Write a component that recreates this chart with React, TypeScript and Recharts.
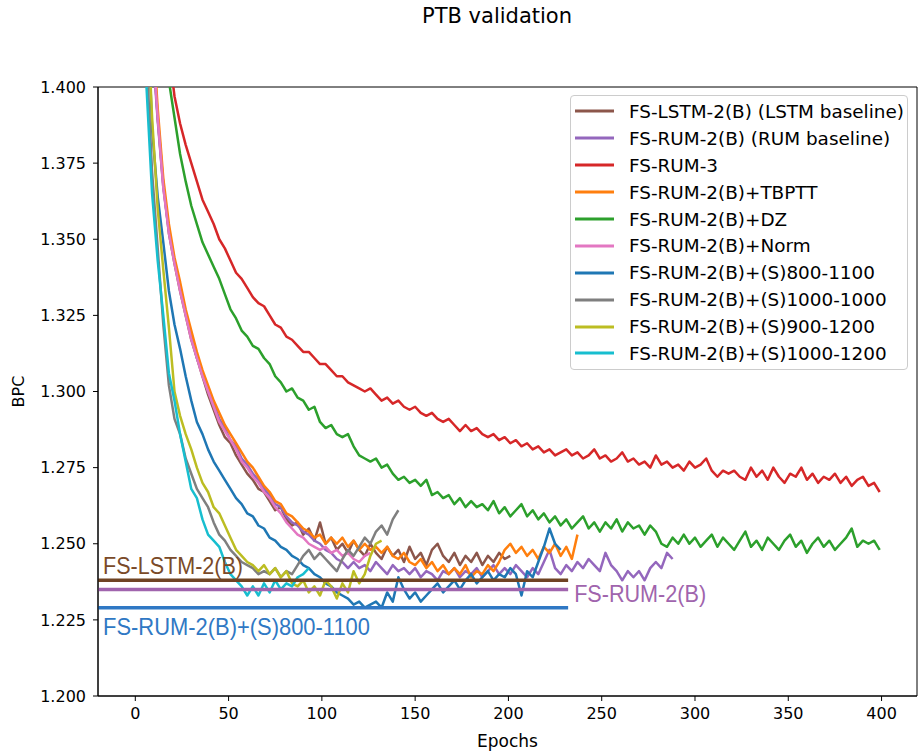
import React from 'react';
import { LineChart, Line, XAxis, YAxis, Legend, ReferenceArea, Label } from 'recharts';

// ---------- data ----------
const EPOCH_STEP = 3; // values below are read every 3 epochs, starting at epoch 0

const X_TICKS = [0, 50, 100, 150, 200, 250, 300, 350, 400];
const Y_TICKS = [1.2, 1.225, 1.25, 1.275, 1.3, 1.325, 1.35, 1.375, 1.4];
const X_DOMAIN = [-20, 419];
const Y_DOMAIN = [1.2, 1.4];

const LSTM_2B = [
  1.620, 1.545, 1.470, 1.418, 1.390, 1.368, 1.352, 1.342, 1.333, 1.325, 1.317, 1.311, 1.305, 1.299, 1.294, 1.289,
  1.285, 1.283, 1.279, 1.276, 1.273, 1.271, 1.268, 1.267, 1.264, 1.261, 1.262, 1.258, 1.256, 1.257, 1.253, 1.255,
  1.251, 1.257, 1.250, 1.252, 1.248, 1.250, 1.247, 1.251, 1.248, 1.246, 1.250, 1.247, 1.245, 1.249, 1.246, 1.248,
  1.244, 1.249, 1.245, 1.247, 1.243, 1.248, 1.250, 1.246, 1.244, 1.247, 1.243, 1.246, 1.244, 1.247, 1.243, 1.246,
  1.244, 1.247, 1.245, 1.246,
];

const RUM_2B = [
  1.615, 1.540, 1.465, 1.415, 1.389, 1.367, 1.353, 1.343, 1.334, 1.326, 1.318, 1.311, 1.306, 1.300, 1.296, 1.291,
  1.288, 1.284, 1.282, 1.278, 1.276, 1.273, 1.271, 1.268, 1.266, 1.263, 1.262, 1.259, 1.257, 1.256, 1.254, 1.253,
  1.251, 1.250, 1.248, 1.247, 1.245, 1.244, 1.242, 1.244, 1.242, 1.243, 1.241, 1.244, 1.242, 1.240, 1.243, 1.241,
  1.242, 1.240, 1.242, 1.239, 1.241, 1.240, 1.238, 1.241, 1.240, 1.242, 1.239, 1.241, 1.240, 1.242, 1.239, 1.241,
  1.243, 1.240, 1.242, 1.240, 1.243, 1.241, 1.239, 1.242, 1.240, 1.244, 1.248, 1.242, 1.240, 1.243, 1.241, 1.244,
  1.242, 1.245, 1.243, 1.241, 1.247, 1.243, 1.241, 1.238, 1.241, 1.239, 1.241, 1.238, 1.242, 1.244, 1.242, 1.247,
  1.245,
];

const RUM_3 = [
  1.600, 1.555, 1.515, 1.482, 1.455, 1.433, 1.412, 1.397, 1.388, 1.381, 1.375, 1.369, 1.363, 1.359, 1.355, 1.350,
  1.347, 1.343, 1.339, 1.337, 1.334, 1.331, 1.329, 1.328, 1.325, 1.322, 1.321, 1.318, 1.317, 1.315, 1.313, 1.313,
  1.311, 1.309, 1.309, 1.307, 1.305, 1.305, 1.303, 1.302, 1.301, 1.300, 1.301, 1.299, 1.297, 1.298, 1.296, 1.297,
  1.295, 1.294, 1.295, 1.293, 1.292, 1.293, 1.291, 1.290, 1.291, 1.289, 1.287, 1.289, 1.287, 1.288, 1.286, 1.285,
  1.286, 1.284, 1.285, 1.283, 1.284, 1.282, 1.283, 1.281, 1.282, 1.280, 1.281, 1.279, 1.280, 1.281, 1.279, 1.280,
  1.278, 1.279, 1.281, 1.278, 1.279, 1.277, 1.278, 1.280, 1.277, 1.278, 1.276, 1.277, 1.275, 1.279, 1.276, 1.277,
  1.275, 1.276, 1.274, 1.277, 1.275, 1.276, 1.278, 1.274, 1.272, 1.274, 1.273, 1.274, 1.272, 1.271, 1.275, 1.272,
  1.274, 1.271, 1.275, 1.272, 1.270, 1.273, 1.272, 1.275, 1.271, 1.273, 1.270, 1.272, 1.271, 1.273, 1.270, 1.272,
  1.269, 1.271, 1.272, 1.269, 1.270, 1.267,
];

const RUM_2B_TBPTT = [
  1.625, 1.550, 1.475, 1.422, 1.393, 1.370, 1.355, 1.344, 1.336, 1.327, 1.320, 1.313, 1.307, 1.302, 1.297, 1.293,
  1.289, 1.286, 1.283, 1.280, 1.277, 1.275, 1.272, 1.269, 1.267, 1.264, 1.263, 1.260, 1.259, 1.257, 1.255, 1.254,
  1.252, 1.253, 1.250, 1.252, 1.250, 1.252, 1.249, 1.251, 1.248, 1.250, 1.248, 1.249, 1.247, 1.249, 1.246, 1.245,
  1.247, 1.244, 1.243, 1.245, 1.242, 1.244, 1.241, 1.243, 1.240, 1.242, 1.240, 1.243, 1.239, 1.241, 1.240, 1.243,
  1.241, 1.244, 1.248, 1.250, 1.247, 1.249, 1.246, 1.248, 1.245, 1.249, 1.247, 1.250, 1.246, 1.249, 1.245, 1.253,
];

const RUM_2B_DZ = [
  1.580, 1.535, 1.495, 1.462, 1.438, 1.418, 1.402, 1.390, 1.378, 1.369, 1.361, 1.355, 1.349, 1.345, 1.341, 1.337,
  1.332, 1.327, 1.324, 1.320, 1.318, 1.315, 1.314, 1.311, 1.309, 1.305, 1.303, 1.300, 1.301, 1.298, 1.297, 1.294,
  1.295, 1.290, 1.288, 1.289, 1.286, 1.285, 1.286, 1.282, 1.279, 1.278, 1.277, 1.278, 1.275, 1.276, 1.273, 1.271,
  1.272, 1.270, 1.271, 1.269, 1.271, 1.266, 1.267, 1.265, 1.266, 1.263, 1.265, 1.262, 1.264, 1.262, 1.263, 1.261,
  1.264, 1.260, 1.262, 1.259, 1.261, 1.263, 1.259, 1.261, 1.258, 1.260, 1.257, 1.259, 1.256, 1.258, 1.255, 1.257,
  1.259, 1.255, 1.257, 1.254, 1.257, 1.255, 1.258, 1.254, 1.257, 1.255, 1.256, 1.253, 1.256, 1.254, 1.250, 1.249,
  1.252, 1.250, 1.253, 1.250, 1.252, 1.249, 1.251, 1.253, 1.249, 1.252, 1.250, 1.248, 1.251, 1.254, 1.249, 1.251,
  1.248, 1.252, 1.250, 1.248, 1.251, 1.253, 1.249, 1.251, 1.247, 1.250, 1.252, 1.249, 1.251, 1.248, 1.250, 1.252,
  1.255, 1.249, 1.251, 1.250, 1.251, 1.248,
];

const RUM_2B_NORM = [
  1.618, 1.543, 1.468, 1.417, 1.390, 1.367, 1.352, 1.342, 1.333, 1.325, 1.317, 1.311, 1.305, 1.300, 1.295, 1.290,
  1.287, 1.284, 1.281, 1.277, 1.275, 1.272, 1.270, 1.267, 1.265, 1.262, 1.260, 1.257, 1.255, 1.253, 1.252, 1.250,
  1.249, 1.248, 1.249, 1.247, 1.248, 1.246, 1.247, 1.245, 1.244, 1.246, 1.247,
];

const RUM_2B_S800_1100 = [
  1.580, 1.500, 1.435, 1.386, 1.364, 1.349, 1.333, 1.322, 1.314, 1.305, 1.297, 1.290, 1.286, 1.281, 1.277, 1.274,
  1.271, 1.268, 1.265, 1.263, 1.260, 1.259, 1.256, 1.255, 1.252, 1.251, 1.249, 1.248, 1.246, 1.245, 1.243, 1.242,
  1.240, 1.239, 1.237, 1.236, 1.234, 1.233, 1.232, 1.230, 1.231, 1.229, 1.230, 1.231, 1.229, 1.234, 1.231, 1.239,
  1.235, 1.232, 1.234, 1.231, 1.233, 1.235, 1.237, 1.234, 1.236, 1.238, 1.235, 1.238, 1.240, 1.237, 1.239, 1.241,
  1.238, 1.240, 1.239, 1.242, 1.240, 1.233, 1.241, 1.239, 1.244, 1.249, 1.255, 1.250, 1.248,
];

const RUM_2B_S1000_1000 = [
  1.600, 1.505, 1.410, 1.372, 1.347, 1.322, 1.302, 1.291, 1.286, 1.278, 1.273, 1.268, 1.265, 1.262, 1.257, 1.253,
  1.251, 1.248, 1.246, 1.244, 1.243, 1.242, 1.240, 1.241, 1.240, 1.242, 1.239, 1.241, 1.240, 1.243, 1.246, 1.248,
  1.245, 1.247, 1.245, 1.243, 1.241, 1.245, 1.248, 1.246, 1.249, 1.252, 1.250, 1.254, 1.256, 1.253, 1.258, 1.261,
];

const RUM_2B_S900_1200 = [
  1.600, 1.500, 1.430, 1.390, 1.360, 1.340, 1.321, 1.300, 1.292, 1.286, 1.281, 1.275, 1.270, 1.267, 1.262, 1.260,
  1.256, 1.252, 1.248, 1.246, 1.244, 1.243, 1.241, 1.243, 1.240, 1.242, 1.239, 1.241, 1.237, 1.236, 1.238, 1.234,
  1.236, 1.233, 1.238, 1.236, 1.232, 1.237, 1.234, 1.241, 1.237, 1.240, 1.246, 1.250, 1.251,
];

const RUM_2B_S1000_1200 = [
  1.580, 1.480, 1.400, 1.365, 1.343, 1.325, 1.306, 1.297, 1.286, 1.277, 1.268, 1.265, 1.258, 1.253, 1.251, 1.249,
  1.244, 1.240, 1.238, 1.236, 1.233, 1.236, 1.233, 1.237, 1.234, 1.238, 1.235, 1.237, 1.236, 1.239, 1.240, 1.242,
];

// reference levels (best results) and the epoch span of their horizontal markers
const BASE_LSTM = 1.238;
const BASE_RUM = 1.235;
const BASE_S800 = 1.229;
const BASE_SPAN = [-20, 232];

const SERIES = [
  { name: 'FS-LSTM-2(B) (LSTM baseline)', color: '#8c564b', values: LSTM_2B },
  { name: 'FS-RUM-2(B) (RUM baseline)', color: '#9467bd', values: RUM_2B },
  { name: 'FS-RUM-3', color: '#d62728', values: RUM_3 },
  { name: 'FS-RUM-2(B)+TBPTT', color: '#ff7f0e', values: RUM_2B_TBPTT },
  { name: 'FS-RUM-2(B)+DZ', color: '#2ca02c', values: RUM_2B_DZ },
  { name: 'FS-RUM-2(B)+Norm', color: '#e377c2', values: RUM_2B_NORM },
  { name: 'FS-RUM-2(B)+(S)800-1100', color: '#1f77b4', values: RUM_2B_S800_1100 },
  { name: 'FS-RUM-2(B)+(S)1000-1000', color: '#7f7f7f', values: RUM_2B_S1000_1000 },
  { name: 'FS-RUM-2(B)+(S)900-1200', color: '#bcbd22', values: RUM_2B_S900_1200 },
  { name: 'FS-RUM-2(B)+(S)1000-1200', color: '#17becf', values: RUM_2B_S1000_1200 },
];

const toPoints = (vals: number[]) => vals.map((y, i) => ({ x: i * EPOCH_STEP, y }));
const levelPoints = (level: number) => BASE_SPAN.map((x) => ({ x, y: level }));

const FONT = 'DejaVu Sans, sans-serif';
const NOTE_FONT = 'Liberation Sans, Arial, sans-serif';

const makeNote = (text: string, color: string, at: number, dx: number, dy: number, len: number) => (props: any) => {
  if (props.index !== at) return <g />;
  const px = props.viewBox?.x ?? props.x;
  const py = props.viewBox?.y ?? props.y;
  return (
    <text
      x={px + dx}
      y={py + dy}
      fill={color}
      fontSize={24}
      fontFamily={NOTE_FONT}
      textLength={len}
      lengthAdjust="spacingAndGlyphs"
    >
      {text}
    </text>
  );
};

const LegendBox = () => (
  <div
    style={{
      width: 338,
      height: 275,
      boxSizing: 'border-box',
      border: '1px solid #cccccc',
      borderRadius: 4,
      background: 'rgba(255,255,255,0.8)',
      paddingTop: 2,
      fontFamily: FONT,
      fontSize: 18.4,
      color: '#000',
    }}
  >
    {SERIES.map((s) => (
      <div key={s.name} style={{ display: 'flex', alignItems: 'center', height: 26.9, whiteSpace: 'nowrap' }}>
        <svg width={58} height={10} style={{ flex: 'none' }}>
          <line x1={4} x2={43} y1={5} y2={5} stroke={s.color} strokeWidth={3} />
        </svg>
        <span>{s.name}</span>
      </div>
    ))}
  </div>
);

export default function App() {
  return (
    <div style={{ position: 'absolute', left: 0, top: 0, width: 919, height: 751, background: '#fff' }}>
      <div
        style={{
          position: 'absolute',
          left: 397,
          width: 200,
          top: 4,
          textAlign: 'center',
          fontFamily: FONT,
          fontSize: 21,
          color: '#000',
        }}
      >
        PTB validation
      </div>
      <LineChart width={919} height={751} margin={{ top: 87, right: 2, bottom: 0, left: 0 }}>
        <XAxis
          type="number"
          dataKey="x"
          domain={X_DOMAIN}
          ticks={X_TICKS}
          allowDataOverflow
          height={55}
          tickSize={5}
          tickMargin={7}
          stroke="#000"
          tick={{ fill: '#000', fontSize: 16, fontFamily: FONT }}
        >
          <Label
            content={(p: any) => (
              <text
                x={p.viewBox.x + p.viewBox.width / 2}
                y={p.viewBox.y + 51}
                textAnchor="middle"
                fontSize={17}
                fontFamily={FONT}
                fill="#000"
              >
                Epochs
              </text>
            )}
          />
        </XAxis>
        <YAxis
          type="number"
          dataKey="y"
          domain={Y_DOMAIN}
          ticks={Y_TICKS}
          allowDataOverflow
          width={98}
          tickSize={5}
          tickMargin={7}
          stroke="#000"
          tickFormatter={(v: number) => v.toFixed(3)}
          tick={{ fill: '#000', fontSize: 16, fontFamily: FONT }}
        >
          <Label
            content={(p: any) => {
              const cx = p.viewBox.x + 18;
              const cy = p.viewBox.y + p.viewBox.height / 2;
              return (
                <text
                  x={cx}
                  y={cy}
                  transform={`rotate(-90 ${cx} ${cy})`}
                  textAnchor="middle"
                  dominantBaseline="central"
                  fontSize={16}
                  fontFamily={FONT}
                  fill="#000"
                >
                  BPC
                </text>
              );
            }}
          />
        </YAxis>
        <ReferenceArea
          x1={X_DOMAIN[0]}
          x2={X_DOMAIN[1]}
          y1={Y_DOMAIN[0]}
          y2={Y_DOMAIN[1]}
          fill="none"
          stroke="#000"
          strokeWidth={1}
          ifOverflow="visible"
        />
        {SERIES.map((s) => (
          <Line
            key={s.name}
            data={toPoints(s.values)}
            dataKey="y"
            name={s.name}
            stroke={s.color}
            strokeWidth={2.5}
            dot={false}
            activeDot={false}
            isAnimationActive={false}
            strokeLinejoin="round"
          />
        ))}
        <Line
          data={levelPoints(BASE_LSTM)}
          dataKey="y"
          stroke="#6f4323"
          strokeWidth={3.5}
          dot={false}
          activeDot={false}
          legendType="none"
          isAnimationActive={false}
          label={makeNote('FS-LSTM-2(B)', '#7a4a28', 0, 5, -6, 140)}
        />
        <Line
          data={levelPoints(BASE_RUM)}
          dataKey="y"
          stroke="#a064ad"
          strokeWidth={3.5}
          dot={false}
          activeDot={false}
          legendType="none"
          isAnimationActive={false}
          label={makeNote('FS-RUM-2(B)', '#a064ad', 1, 6, 13, 132)}
        />
        <Line
          data={levelPoints(BASE_S800)}
          dataKey="y"
          stroke="#2f78c4"
          strokeWidth={3.5}
          dot={false}
          activeDot={false}
          legendType="none"
          isAnimationActive={false}
          label={makeNote('FS-RUM-2(B)+(S)800-1100', '#2f78c4', 0, 5, 27, 267)}
        />
        <Legend
          layout="vertical"
          align="center"
          verticalAlign="middle"
          content={() => <LegendBox />}
          wrapperStyle={{ left: 570, top: 95, width: 338, height: 275, margin: 0 }}
        />
      </LineChart>
    </div>
  );
}
